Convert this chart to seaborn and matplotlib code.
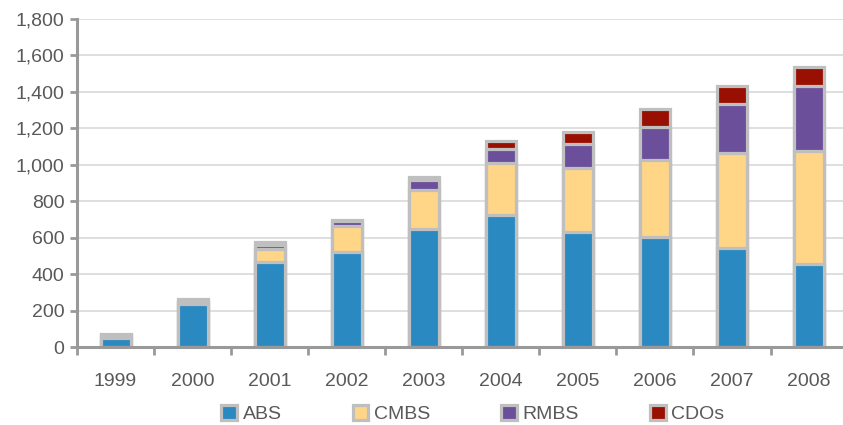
import numpy as np
import pandas as pd
import matplotlib
matplotlib.use('Agg')
import matplotlib.pyplot as plt
import seaborn as sns
from matplotlib.patches import Patch
from matplotlib.ticker import FuncFormatter, MultipleLocator, FixedLocator

# Data (stacked segments, bottom to top)
years = ['1999', '2000', '2001', '2002', '2003', '2004', '2005', '2006', '2007', '2008']
abs_vals = [51, 237, 466, 524, 649, 727, 633, 605, 544, 455]
cmbs_vals = [8, 9, 70, 139, 210, 281, 349, 421, 519, 622]
rmbs_vals = [8, 9, 22, 28, 59, 79, 132, 183, 269, 354]
cdo_vals = [7, 9, 20, 8, 14, 41, 66, 99, 98, 103]

series = ['ABS', 'CMBS', 'RMBS', 'CDOs']
colors = ['#2A89C1', '#FFD588', '#6B4F9B', '#990F02']
edge = '#BFBFBF'
text_col = '#595959'

df = pd.DataFrame({'year': years, 'ABS': abs_vals, 'CMBS': cmbs_vals,
                   'RMBS': rmbs_vals, 'CDOs': cdo_vals})
cum = df[series].cumsum(axis=1)

sns.set_style('white')
plt.rcParams['font.family'] = ['Liberation Sans', 'DejaVu Sans']

fig = plt.figure(figsize=(8.43, 4.25), dpi=100)
ax = fig.add_axes([77 / 843, 1 - 347 / 425, 1 - 77 / 843, (347 - 19) / 425])

# draw cumulative totals from the top series down so they read as a stack
for name, col in zip(series[::-1], colors[::-1]):
    sns.barplot(x=df['year'], y=cum[name], color=col, saturation=1, width=0.39,
                edgecolor=edge, linewidth=2.3, errorbar=None, ax=ax, zorder=3)

ax.set_ylim(0, 1800)
ax.set_xlim(-0.5, 9.44)
ax.yaxis.set_major_locator(MultipleLocator(200))
ax.yaxis.set_major_formatter(FuncFormatter(lambda v, p: f'{v:,.0f}'))
ax.grid(axis='y', color='#D9D9D9', linewidth=1.2, zorder=0)
ax.set_axisbelow(True)

for s in ['top', 'right']:
    ax.spines[s].set_visible(False)
for s in ['left', 'bottom']:
    ax.spines[s].set_color('#999999')
    ax.spines[s].set_linewidth(2.2)
    ax.spines[s].set_zorder(4)

ax.set_xlabel('')
ax.set_ylabel('')
ax.tick_params(axis='y', length=5, width=2, color='#999999', labelsize=14,
               labelcolor=text_col, pad=4, left=True)
ax.tick_params(axis='x', which='major', length=0, labelsize=14,
               labelcolor=text_col, pad=19)
ax.xaxis.set_minor_locator(FixedLocator(np.arange(-0.5, 10, 1)))
ax.tick_params(axis='x', which='minor', length=6, width=2, color='#999999',
               bottom=True)

handles = [Patch(facecolor=c, edgecolor=edge, linewidth=2.3, label=n)
           for n, c in zip(series, colors)]
fig.legend(handles=handles, loc='center', bbox_to_anchor=(0.561, 0.026), ncol=4,
           frameon=False, fontsize=14, labelcolor=text_col,
           handlelength=0.8, handleheight=0.8, handletextpad=0.3,
           columnspacing=3.65)

fig.savefig('out.png', dpi=100)
